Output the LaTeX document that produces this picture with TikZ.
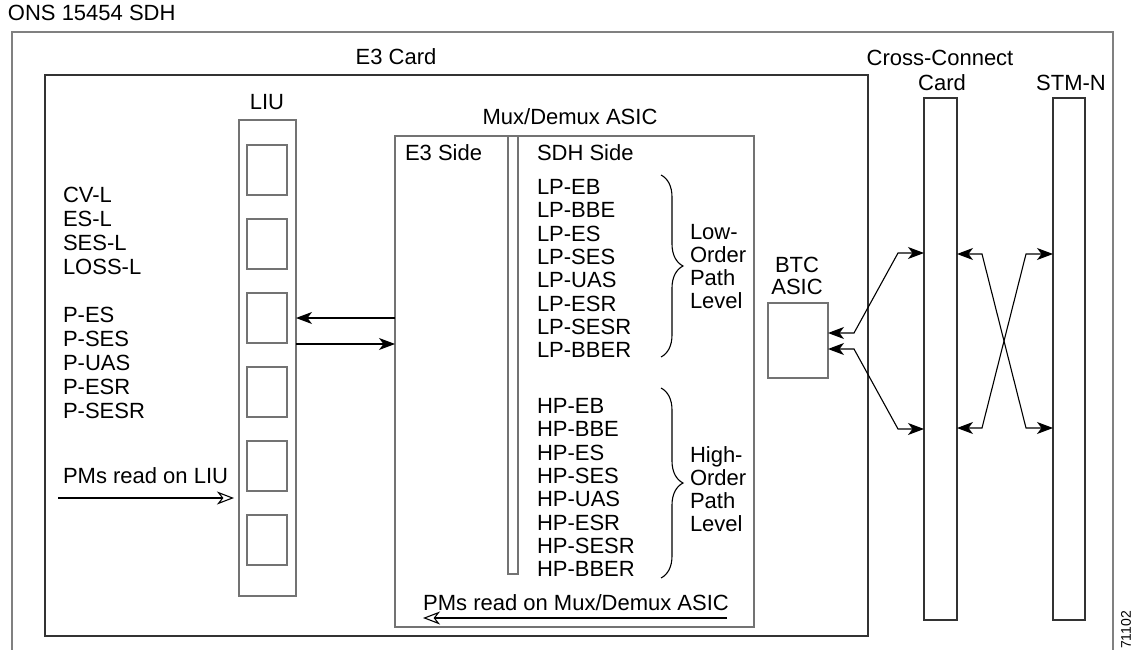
\documentclass[tikz,border=0pt]{standalone}
\usepackage{fontspec}
\setmainfont{Liberation Sans}
\usetikzlibrary{arrows.meta,decorations.pathreplacing}
\begin{document}
\begin{tikzpicture}[x=1pt,y=-1pt,
  txt/.style={font=\fontsize{22}{24}\selectfont, inner sep=0pt, outer sep=0pt},
  small/.style={font=\fontsize{14}{16}\selectfont, inner sep=0pt, outer sep=0pt},
  box/.style={draw=black!80, line width=1.1pt, inner sep=0pt, outer sep=0pt, rectangle},
  gbox/.style={draw=black!55, line width=1.1pt, inner sep=0pt, outer sep=0pt, rectangle},
  frame/.style={draw=black!50, line width=1.6pt},
  arr/.style={line width=1.1pt, -{Stealth[length=16pt,width=12pt,inset=4.5pt]}},
  arrboth/.style={line width=1.1pt, {Stealth[length=16pt,width=12pt,inset=4.5pt]}-{Stealth[length=16pt,width=12pt,inset=4.5pt]}},
  openarr/.style={line width=1.1pt, -{Stealth[open,length=17pt,width=13pt,inset=5pt]}},
  bracestyle/.style={line width=1.1pt, decorate, decoration={brace, amplitude=22pt, aspect=0.5}}
]
\useasboundingbox (0,0) rectangle (1132,650);

% outer frame (open at bottom)
\draw[frame] (12,650) -- (12,32) -- (1113,32) -- (1113,650);
\node[txt, anchor=base west] (ons) at (8,20.5) {ONS 15454 SDH};
\node[small, anchor=center, rotate=90] (fig) at (1126,630) {71102};

% E3 card
\node[box, minimum width=823pt, minimum height=561pt] (e3) at (456.5,355.5) {};
\node[txt, anchor=base] (e3lbl) at (396,64.5) {E3 Card};

% LIU
\node[gbox, minimum width=57pt, minimum height=476pt] (liu) at (267.5,358) {};
\node[txt, anchor=base] (liulbl) at (267,109.5) {LIU};
\foreach \i/\yy in {1/170,2/244,3/318,4/392,5/466,6/540}{
  \node[gbox, minimum width=40pt, minimum height=50pt] (port\i) at (267,\yy) {};
}

% left PM list
\foreach \t/\yy [count=\k] in {CV-L/202.5,ES-L/226.5,SES-L/250.5,LOSS-L/274.5,P-ES/322.5,P-SES/346.5,P-UAS/370.5,P-ESR/394.5,P-SESR/418.5}{
  \node[txt, anchor=base west] (lm\k) at (63,\yy) {\t};
}
\node[txt, anchor=base west] (pmliu) at (63,483.5) {PMs read on LIU};
\coordinate (pmliustart) at (58,498);
\draw[openarr, shorten >=5pt] (pmliustart) -- (liu.west |- pmliustart);

% Mux/Demux ASIC
\node[gbox, minimum width=359pt, minimum height=491pt] (mux) at (574.5,381.5) {};
\node[txt, anchor=base] (muxlbl) at (570,124.5) {Mux/Demux ASIC};
\node[gbox, minimum width=10pt, minimum height=438pt] (div) at (513,355) {};
\node[txt, anchor=base west] (e3side) at (405,160.5) {E3 Side};
\node[txt, anchor=base west] (sdhside) at (537,160.5) {SDH Side};

\foreach \t [count=\k] in {LP-EB,LP-BBE,LP-ES,LP-SES,LP-UAS,LP-ESR,LP-SESR,LP-BBER}{
  \node[txt, anchor=base west] (lp\k) at (537,{194.5+23.3*(\k-1)}) {\t};
}
\foreach \t [count=\k] in {HP-EB,HP-BBE,HP-ES,HP-SES,HP-UAS,HP-ESR,HP-SESR,HP-BBER}{
  \node[txt, anchor=base west] (hp\k) at (537,{413.5+23.3*(\k-1)}) {\t};
}
\coordinate (b1a) at (661,175);
\coordinate (b1b) at (661,357);
\coordinate (b2a) at (661,388);
\coordinate (b2b) at (661,578);
\draw[bracestyle] (b1a) -- (b1b);
\draw[bracestyle] (b2a) -- (b2b);
\foreach \t/\yy [count=\k] in {Low-/239.5,Order/262.5,Path/285.5,Level/308.5}{
  \node[txt, anchor=base west] (lo\k) at (690,\yy) {\t};
}
\foreach \t/\yy [count=\k] in {High-/462.5,Order/485.5,Path/508.5,Level/531.5}{
  \node[txt, anchor=base west] (ho\k) at (690,\yy) {\t};
}
\node[txt, anchor=base] (pmmux) at (576,610.5) {PMs read on Mux/Demux ASIC};
\coordinate (pmmuxstart) at (727,618);
\coordinate (pmmuxend) at (423,618);
\draw[openarr] (pmmuxstart) -- (pmmuxend);

% LIU <-> Mux
\draw[arr] (mux.west |- 0,318) -- (liu.east |- 0,318);
\draw[arr] (liu.east |- 0,344) -- (mux.west |- 0,344);

% BTC ASIC
\node[gbox, minimum width=60pt, minimum height=75pt] (btc) at (798,340.5) {};
\node[txt, anchor=base] (btc1) at (797,272.5) {BTC};
\node[txt, anchor=base] (btc2) at (797,294.5) {ASIC};

% Cross-connect and STM-N
\node[box, minimum width=33pt, minimum height=522pt] (cc) at (940.5,359) {};
\node[box, minimum width=32pt, minimum height=522pt] (stm) at (1069,359) {};
\node[txt, anchor=base] (cclbl1) at (940,65.5) {Cross-Connect};
\node[txt, anchor=base] (cclbl2) at (942,90.5) {Card};
\node[txt, anchor=base] (stmlbl) at (1071,90.5) {STM-N};

\draw[arrboth] (btc.east |- 0,333) -- (854,333) -- (898,253) -- (cc.west |- 0,253);
\draw[arrboth] (btc.east |- 0,349) -- (854,349) -- (898,429) -- (cc.west |- 0,429);
\draw[arrboth] (cc.east |- 0,254) -- (982,254) -- (1026,428) -- (stm.west |- 0,428);
\draw[arrboth] (cc.east |- 0,428) -- (982,428) -- (1026,254) -- (stm.west |- 0,254);
\end{tikzpicture}
\end{document}
